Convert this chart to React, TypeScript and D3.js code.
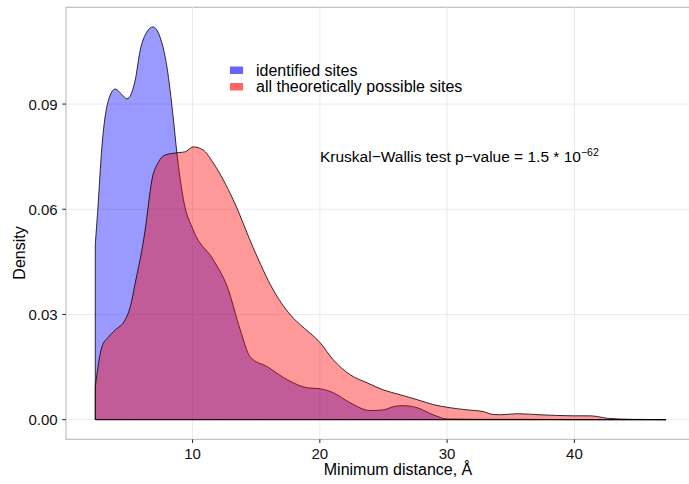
import { useEffect, useRef } from "react";
import * as d3 from "d3";

// minimum distance (Å) and density
const identifiedX = [2.36, 2.54, 2.88, 3.4, 3.93, 4.4, 4.85, 5.5, 5.89, 6.4, 6.89, 7.46, 7.99, 8.48, 8.77, 9.29, 10.05, 11.63, 12.73, 13.75, 14.53, 15.87, 17.44, 19.01, 20.03, 21.05, 22.39, 23.96, 24.98, 25.9, 26.55, 27.65, 28.91, 30.0, 32.0, 36.0, 40.0, 47.2];
const identifiedY = [0.05, 0.059, 0.0778, 0.0912, 0.0943, 0.0929, 0.0915, 0.0969, 0.1054, 0.1105, 0.112, 0.109, 0.1006, 0.0863, 0.0761, 0.0627, 0.0541, 0.0456, 0.0379, 0.0256, 0.0179, 0.0151, 0.0114, 0.0091, 0.0088, 0.0077, 0.0048, 0.0026, 0.0028, 0.0038, 0.004, 0.0034, 0.0014, 0.0002, 0.0001, 0.0001, 0.0, 0.0];

const possibleX = [2.36, 2.88, 3.4, 3.93, 4.71, 5.11, 5.5, 6.05, 6.28, 6.81, 7.33, 7.86, 8.8, 9.43, 10.05, 10.84, 11.63, 13.2, 14.77, 16.34, 17.91, 18.46, 20.03, 21.05, 22.39, 23.72, 24.98, 26.32, 27.65, 28.91, 30.24, 31.58, 32.84, 33.6, 34.2, 35.5, 37.3, 39.9, 41.2, 41.8, 42.6, 44.4, 47.2];
const possibleY = [0.0094, 0.0208, 0.0236, 0.0256, 0.0285, 0.0322, 0.039, 0.049, 0.0541, 0.0684, 0.0735, 0.0755, 0.0761, 0.0764, 0.0778, 0.0769, 0.0732, 0.0627, 0.049, 0.037, 0.029, 0.0271, 0.0219, 0.0171, 0.0128, 0.0105, 0.0085, 0.0071, 0.0057, 0.0043, 0.0034, 0.0028, 0.0023, 0.0015, 0.0014, 0.0017, 0.0014, 0.0011, 0.0011, 0.0009, 0.0004, 0.0001, 0.0];

const xTicks = [10, 20, 30, 40];
const yTicks = [0, 0.03, 0.06, 0.09];
const seriesNames = ["identified sites", "all theoretically possible sites"];
const seriesFill = ["#0000ff", "#ff0000"];
const keyFill = ["#6666ff", "#ff6666"];

export default function App() {
  const svgRef = useRef<SVGSVGElement>(null);

  useEffect(() => {
    const width = 689;
    const height = 484;
    const left = 66, top = 7.3, bottom = 439.3, right = 694.7;
    const font = "'Liberation Sans', Arial, sans-serif";

    const svg = d3.select(svgRef.current).attr("width", width).attr("height", height);
    svg.selectAll("*").remove();

    const x = d3.scaleLinear().domain([0.06, 49.45]).range([left, right]);
    const y = d3.scaleLinear().domain([-0.0056, 0.1176]).range([bottom, top]);

    // panel
    svg.append("rect")
      .attr("x", left).attr("y", top)
      .attr("width", right - left).attr("height", bottom - top)
      .attr("fill", "white").attr("stroke", "#b3b3b3").attr("stroke-width", 1);

    const grid = svg.append("g").attr("stroke", "#ebebeb").attr("stroke-width", 1);
    xTicks.forEach((t) => {
      grid.append("line").attr("x1", x(t)).attr("x2", x(t)).attr("y1", top).attr("y2", bottom);
    });
    yTicks.forEach((t) => {
      grid.append("line").attr("x1", left).attr("x2", width).attr("y1", y(t)).attr("y2", y(t));
    });

    const area = d3.area<[number, number]>()
      .x((d) => x(d[0]))
      .y0(y(0))
      .y1((d) => y(d[1]))
      .curve(d3.curveMonotoneX);

    const series: [number, number][][] = [
      identifiedX.map((v, i) => [v, identifiedY[i]]),
      possibleX.map((v, i) => [v, possibleY[i]]),
    ];

    series.forEach((s, i) => {
      svg.append("path")
        .datum(s)
        .attr("d", area)
        .attr("fill", seriesFill[i])
        .attr("fill-opacity", 0.4)
        .attr("stroke", "black")
        .attr("stroke-width", 0.8);
    });

    // axes ticks
    const ax = svg.append("g").attr("stroke", "#333").attr("stroke-width", 1.1);
    xTicks.forEach((t) => {
      ax.append("line").attr("x1", x(t)).attr("x2", x(t)).attr("y1", bottom).attr("y2", bottom + 3.7);
    });
    yTicks.forEach((t) => {
      ax.append("line").attr("x1", left - 3.7).attr("x2", left).attr("y1", y(t)).attr("y2", y(t));
    });

    svg.append("g").selectAll("text").data(xTicks).join("text")
      .attr("x", (d) => x(d)).attr("y", bottom + 20)
      .attr("text-anchor", "middle")
      .attr("font-family", font).attr("font-size", 15).attr("fill", "#111")
      .text((d) => String(d));

    svg.append("g").selectAll("text").data(yTicks).join("text")
      .attr("x", left - 8.3).attr("y", (d) => y(d) + 5.8)
      .attr("text-anchor", "end")
      .attr("font-family", font).attr("font-size", 15).attr("fill", "#111")
      .text((d) => d3.format(".2f")(d));

    svg.append("text")
      .attr("x", 398).attr("y", 475)
      .attr("text-anchor", "middle")
      .attr("font-family", font).attr("font-size", 16).attr("fill", "black")
      .text("Minimum distance, Å");

    svg.append("text")
      .attr("transform", "translate(25,253) rotate(-90)")
      .attr("text-anchor", "middle")
      .attr("font-family", font).attr("font-size", 16).attr("fill", "black")
      .text("Density");

    // legend
    seriesNames.forEach((name, i) => {
      svg.append("rect")
        .attr("x", 230).attr("y", 66.5 + i * 16.5)
        .attr("width", 13).attr("height", 7.5)
        .attr("fill", keyFill[i]);
      svg.append("text")
        .attr("x", 256).attr("y", 76 + i * 16.3)
        .attr("font-family", font).attr("font-size", 16).attr("fill", "black")
        .text(name);
    });

    // annotation
    const ann = svg.append("text")
      .attr("x", 320).attr("y", 162)
      .attr("font-family", font).attr("font-size", 15.5).attr("fill", "black");
    ann.append("tspan").text("Kruskal\u2212Wallis test p\u2212value = 1.5 * 10");
    ann.append("tspan").attr("dy", -6).attr("font-size", 10.5).text("\u221262");
  }, []);

  return (
    <div style={{ position: "absolute", left: 0, top: 0 }}>
      <svg ref={svgRef} style={{ display: "block" }}></svg>
    </div>
  );
}
